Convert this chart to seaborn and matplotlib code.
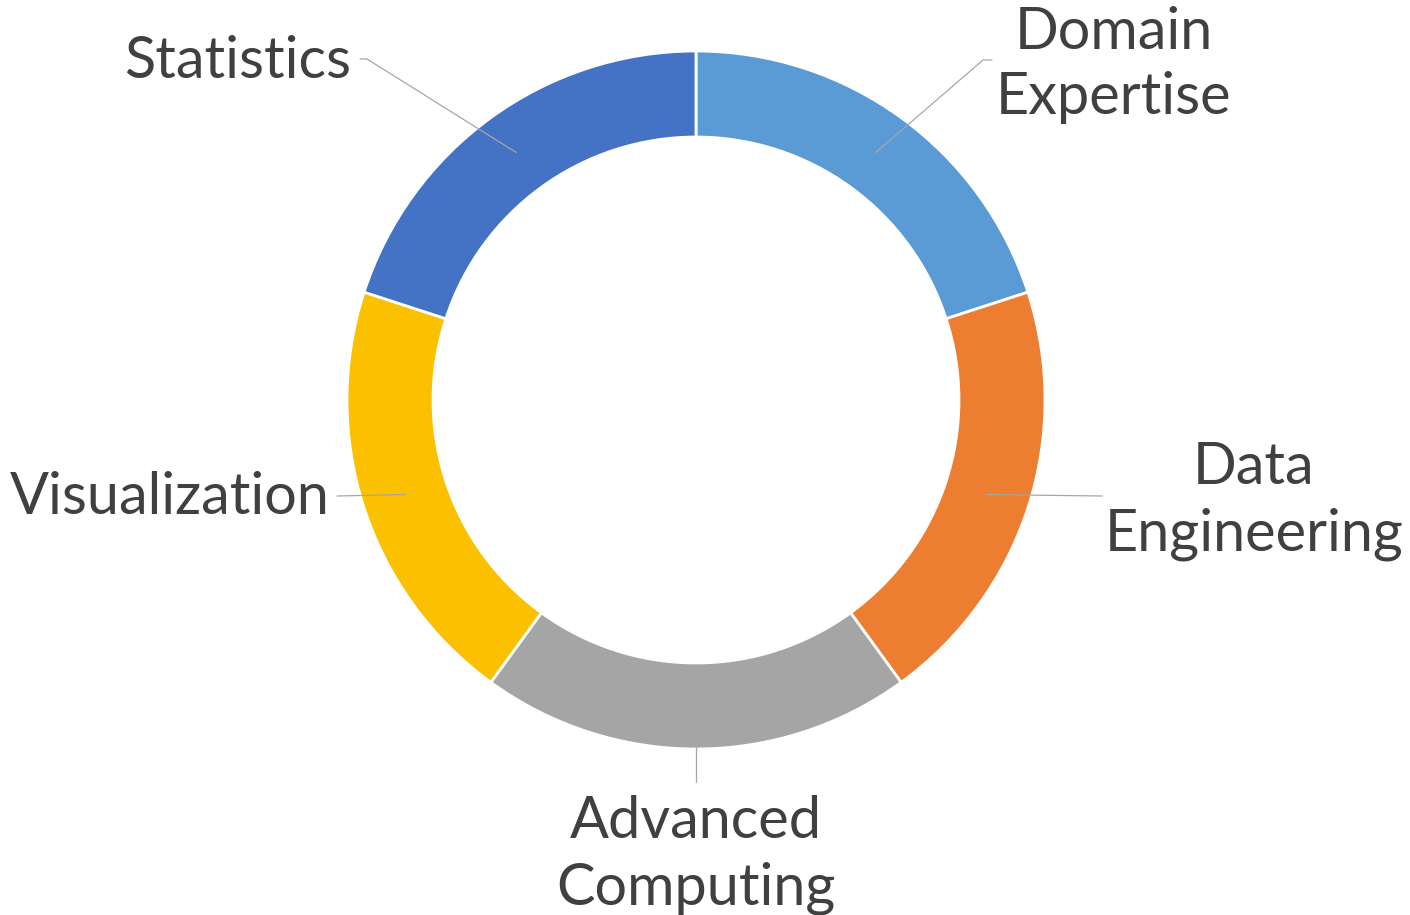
import numpy as np
import seaborn as sns
import matplotlib.pyplot as plt

# donut data: five equal parts, clockwise from the top
labels = ["Domain\nExpertise", "Data\nEngineering", "Advanced\nComputing",
          "Visualization", "Statistics"]
shares = [20, 20, 20, 20, 20]
colors = ["#5B9BD5", "#ED7D31", "#A5A5A5", "#FBC000", "#4472C4"]

# label layout in pixel space (y up): text anchor and leader line path
label_xy = [(1114, 850), (1254, 414), (696, 60), (170, 418), (238, 854)]
leader_pts = [
    [(983, 855), (992, 855)],
    [(1102, 419)],
    [(696, 133)],
    [(337, 419)],
    [(367, 856), (360, 856)],
]

sns.set_theme(style="white")
plt.rcParams["font.family"] = ["Lato", "DejaVu Sans"]

fig = plt.figure(figsize=(14.1, 9.15), dpi=100)
ax = fig.add_axes([0, 0, 1, 1])

center = (696, 515)
radius = 349
ring = 86
wedges, _ = ax.pie(shares, colors=colors, startangle=90, counterclock=False,
                   radius=radius, center=center,
                   wedgeprops=dict(width=ring, edgecolor="white", linewidth=2))

# leader lines start in the middle of each ring segment
r_mid = radius - ring / 2
for w, pts, xy, lab in zip(wedges, leader_pts, label_xy, labels):
    ang = np.deg2rad((w.theta1 + w.theta2) / 2)
    start = (center[0] + r_mid * np.cos(ang), center[1] + r_mid * np.sin(ang))
    path = [start] + pts
    xs = [p[0] for p in path]
    ys = [p[1] for p in path]
    ax.plot(xs, ys, color="#A6A6A6", lw=0.9, zorder=3)
    ax.text(xy[0], xy[1], lab, ha="center", va="center", fontsize=41.5,
            color="#404040", linespacing=1.3)

ax.set_xlim(0, 1410)
ax.set_ylim(0, 915)
ax.set_aspect("equal")
ax.axis("off")

fig.savefig("out.png", dpi=100)
